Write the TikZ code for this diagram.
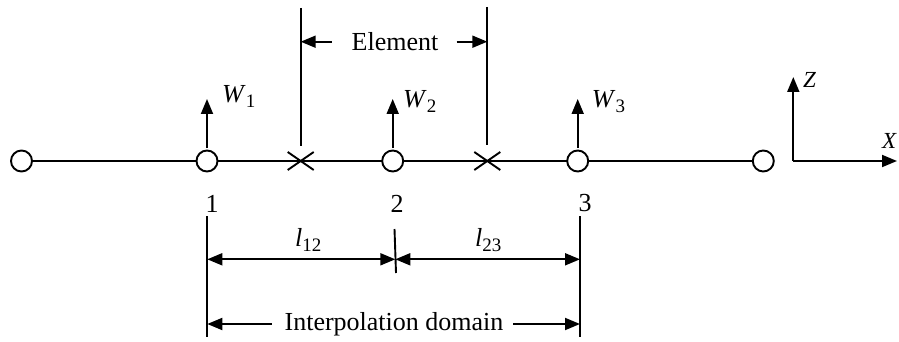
\documentclass[tikz,border=0pt]{standalone}
\usepackage{fontspec}
\setmainfont{Liberation Serif}
\usetikzlibrary{arrows.meta,calc}
\newcommand{\isub}[2]{\textit{#1}\raisebox{-0.18em}{\fontsize{19}{19}\selectfont #2}}
\begin{document}
\begin{tikzpicture}[x=1pt,y=-1pt,
  ln/.style={line width=1.9pt},
  arr/.style={ln,-{Triangle[length=15pt,width=12pt]}},
  darr/.style={ln,{Triangle[length=15pt,width=12pt]}-{Triangle[length=15pt,width=12pt]}},
  nd/.style={circle,draw,line width=1.9pt,fill=white,minimum size=21pt,inner sep=0pt},
  txt/.style={font=\fontsize{26}{30}\selectfont,inner sep=0pt},
  stxt/.style={font=\fontsize{23}{27}\selectfont,inner sep=0pt}]
\useasboundingbox (0,0) rectangle (899,342);
% main line points
\coordinate (p0) at (21.5,161);
\coordinate (p1) at (207,161);
\coordinate (c1) at (300.7,161);
\coordinate (p2) at (392.7,161);
\coordinate (c2) at (487.3,161);
\coordinate (p3) at (577.7,161);
\coordinate (p4) at (763.3,161);
\draw[ln] (p0) -- (p4);
\node[nd] (n0) at (p0) {};
\node[nd] (n1) at (p1) {};
\node[nd] (n2) at (p2) {};
\node[nd] (n3) at (p3) {};
\node[nd] (n4) at (p4) {};
% crosses
\foreach \c in {c1,c2}{
  \draw[ln] ($(\c)+(-13,-9)$) -- ($(\c)+(13,9)$) ($(\c)+(-13,9)$) -- ($(\c)+(13,-9)$);
}
% element boundary lines
\coordinate (e1t) at (300.7,8);
\coordinate (e1b) at (300.7,146);
\coordinate (e2t) at (487.3,7);
\coordinate (e2b) at (487.3,145);
\draw[ln] (e1t) -- (e1b);
\draw[ln] (e2t) -- (e2b);
\node[txt,anchor=base] (elem) at (395,50.7) {Element};
\coordinate (ea1) at (331.7,41.7);
\coordinate (ea1t) at (300.7,41.7);
\coordinate (ea2) at (456.7,41.7);
\coordinate (ea2t) at (487.3,41.7);
\draw[arr] (ea1) -- (ea1t);
\draw[arr] (ea2) -- (ea2t);
% W arrows
\foreach \x/\i in {207/1,392.7/2,577.7/3}{
  \coordinate (wb\i) at (\x,148);
  \coordinate (wt\i) at (\x,99);
  \draw[arr] (wb\i) -- (wt\i);
}
\node[txt,anchor=base west] (w1) at (222,103) {\isub{W}{1}};
\node[txt,anchor=base west] (w2) at (403,108) {\isub{W}{2}};
\node[txt,anchor=base west] (w3) at (591.7,108) {\isub{W}{3}};
% axes
\coordinate (o) at (793.3,161);
\coordinate (zt) at (793.3,77);
\coordinate (xt) at (897,161);
\draw[arr] (o) -- (zt);
\draw[arr] (o) -- (xt);
\node[stxt,anchor=base west] (zl) at (803,88) {\textit{Z}};
\node[stxt,anchor=base east] (xl) at (897,149) {\textit{X}};
% node numbers
\node[txt,anchor=base] (l1) at (212,212) {1};
\node[txt,anchor=base] (l2) at (397,212) {2};
\node[txt,anchor=base] (l3) at (585,211) {3};
% dimension lines
\coordinate (d1t) at (207.3,216);
\coordinate (d1b) at (207.3,337);
\coordinate (d3t) at (580,216);
\coordinate (d3b) at (580,337);
\coordinate (d2t) at (394.5,229);
\coordinate (d2b) at (396,273);
\draw[ln] (d1t) -- (d1b);
\draw[ln] (d3t) -- (d3b);
\draw[ln] (d2t) -- (d2b);
\coordinate (a1) at (207.3,259.3);
\coordinate (a2) at (395.3,259.3);
\coordinate (a3) at (580,259.3);
\draw[darr] (a1) -- (a2);
\draw[darr] (a2) -- (a3);
\node[txt,anchor=base west] (l12) at (295,246.7) {\isub{l}{12}};
\node[txt,anchor=base west] (l23) at (475,246.7) {\isub{l}{23}};
% interpolation domain
\node[txt,anchor=base] (idom) at (394,330) {Interpolation domain};
\coordinate (ia1) at (271.7,324);
\coordinate (ia1t) at (207.3,324);
\coordinate (ia2) at (513,324);
\coordinate (ia2t) at (580,324);
\draw[arr] (ia1) -- (ia1t);
\draw[arr] (ia2) -- (ia2t);
\end{tikzpicture}
\end{document}
